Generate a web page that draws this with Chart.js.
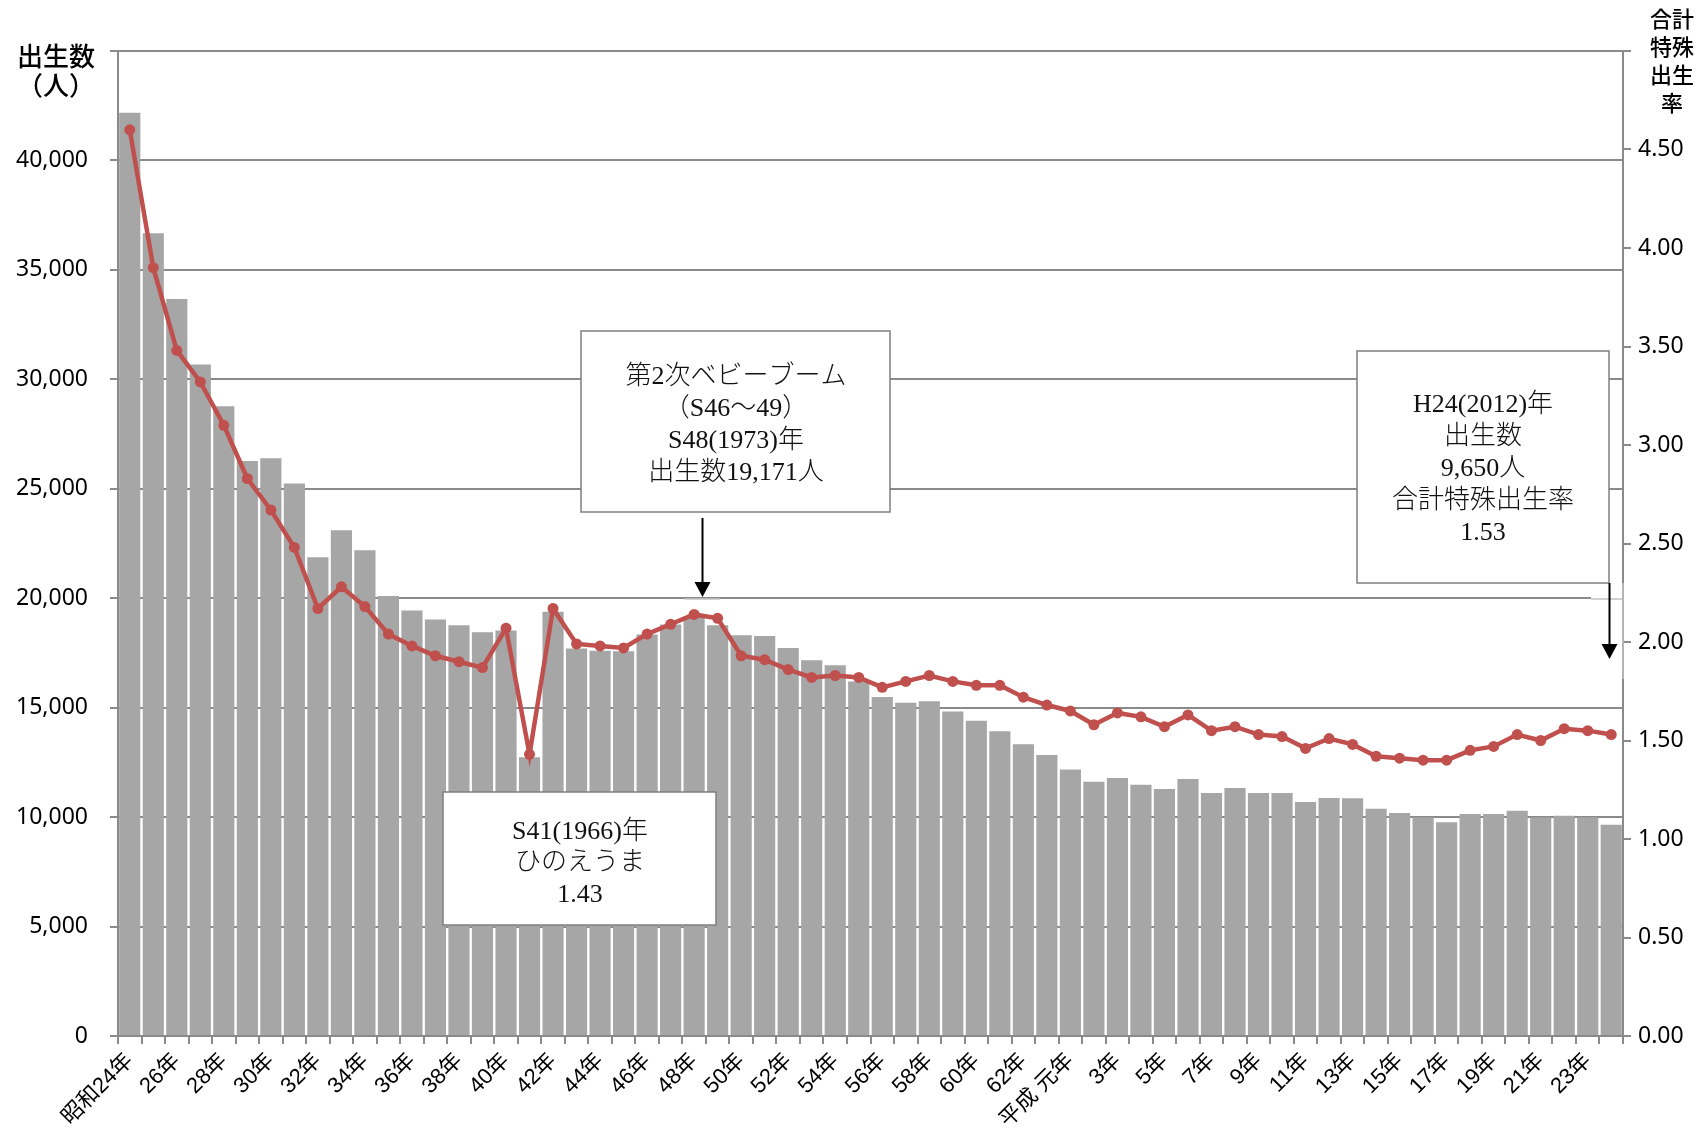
<!DOCTYPE html>
<html lang="ja">
<head>
<meta charset="utf-8">
<title>出生数と合計特殊出生率の推移</title>
<script src="https://cdn.jsdelivr.net/npm/chart.js@4.4.1/dist/chart.umd.min.js"></script>
<style>
  html, body { margin: 0; padding: 0; background: #fff; }
  #wrap { width: 1708px; height: 1130px; }
</style>
</head>
<body>
<div id="wrap"><canvas id="birthChart" width="1708" height="1130"></canvas></div>
<script>
// 年次（昭和24年〜平成24年）
const years = [
  '昭和24年', '25年', '26年', '27年', '28年', '29年', '30年', '31年', '32年', '33年',
  '34年', '35年', '36年', '37年', '38年', '39年', '40年', '41年', '42年', '43年',
  '44年', '45年', '46年', '47年', '48年', '49年', '50年', '51年', '52年', '53年',
  '54年', '55年', '56年', '57年', '58年', '59年', '60年', '61年', '62年', '63年',
  '平成 元年', '2年', '3年', '4年', '5年', '6年', '7年', '8年', '9年', '10年',
  '11年', '12年', '13年', '14年', '15年', '16年', '17年', '18年', '19年', '20年',
  '21年', '22年', '23年', '24年'
];

// 出生数（人）
const births = [
  42180, 36670, 33670, 30680, 28770, 26270, 26400, 25240, 21870, 23100,
  22190, 20100, 19440, 19030, 18770, 18450, 18530, 12730, 19380, 17700,
  17600, 17580, 18340, 18800, 19171, 18760, 18310, 18270, 17730, 17170,
  16940, 16200, 15490, 15220, 15290, 14820, 14400, 13920, 13330, 12840,
  12170, 11620, 11790, 11480, 11280, 11740, 11100, 11330, 11100, 11100,
  10690, 10870, 10860, 10380, 10190, 9990, 9760, 10140, 10140, 10290,
  9990, 10060, 9990, 9650
];

// 合計特殊出生率
const tfr = [
  4.60, 3.90, 3.48, 3.32, 3.10, 2.83, 2.67, 2.48, 2.17, 2.28,
  2.18, 2.04, 1.98, 1.93, 1.90, 1.87, 2.07, 1.43, 2.17, 1.99,
  1.98, 1.97, 2.04, 2.09, 2.14, 2.12, 1.93, 1.91, 1.86, 1.82,
  1.83, 1.82, 1.77, 1.80, 1.83, 1.80, 1.78, 1.78, 1.72, 1.68,
  1.65, 1.58, 1.64, 1.62, 1.57, 1.63, 1.55, 1.57, 1.53, 1.52,
  1.46, 1.51, 1.48, 1.42, 1.41, 1.40, 1.40, 1.45, 1.47, 1.53,
  1.50, 1.56, 1.55, 1.53
];

// 軸の範囲と目盛
const birthMax = 45000;
const birthStep = 5000;
const rateMax = 5;
const rateStep = 0.5;

// 吹き出しの文言
const noteBoom = ['第2次ベビーブーム', '（S46～49）', 'S48(1973)年', '出生数19,171人'];
const noteHinoe = ['S41(1966)年', 'ひのえうま', '1.43'];
const noteLatest = ['H24(2012)年', '出生数', '9,650人', '合計特殊出生率', '1.53'];

const AXIS = '#8a8a8a';
const SANS = '"Noto Sans", "Noto Sans CJK JP", sans-serif';
const SERIF = '"Liberation Serif", "Noto Sans CJK JP", serif';

// 注記（吹き出し・矢印・軸タイトル）を描くプラグイン
const notes = {
  id: 'notes',
  afterDraw(chart) {
    const ctx = chart.ctx;
    ctx.save();

    function box(x1, y1, x2, y2, lines, cx, firstY, step) {
      ctx.fillStyle = '#fff';
      ctx.fillRect(x1, y1, x2 - x1, y2 - y1);
      ctx.strokeStyle = '#7f7f7f';
      ctx.lineWidth = 1.5;
      ctx.strokeRect(x1, y1, x2 - x1, y2 - y1);
      ctx.fillStyle = '#111';
      ctx.font = '300 26px ' + SERIF;
      ctx.textAlign = 'center';
      ctx.textBaseline = 'middle';
      lines.forEach((t, i) => ctx.fillText(t, cx, firstY + i * step));
    }

    function arrow(x, y1, y2) {
      ctx.strokeStyle = '#000';
      ctx.fillStyle = '#000';
      ctx.lineWidth = 2;
      ctx.beginPath();
      ctx.moveTo(x, y1);
      ctx.lineTo(x, y2 - 12);
      ctx.stroke();
      ctx.beginPath();
      ctx.moveTo(x - 8, y2 - 15);
      ctx.lineTo(x + 8, y2 - 15);
      ctx.lineTo(x, y2);
      ctx.closePath();
      ctx.fill();
    }

    // 右端の白い帯（テキストボックスの名残）
    ctx.fillStyle = '#fff';
    ctx.fillRect(1591, 583, 31, 96);
    ctx.strokeStyle = '#c4c4c4';
    ctx.lineWidth = 1.5;
    ctx.beginPath();
    ctx.moveTo(1623, 583);
    ctx.lineTo(1623, 679);
    ctx.moveTo(1591, 599);
    ctx.lineTo(1622, 599);
    ctx.stroke();
    ctx.beginPath();
    ctx.moveTo(684, 599);
    ctx.lineTo(720, 599);
    ctx.stroke();

    box(581, 331, 890, 512, noteBoom, 736, 377, 32);
    arrow(702.5, 518, 597);

    box(443, 792, 716, 925, noteHinoe, 580, 832, 31.5);

    box(1357, 351, 1609, 583, noteLatest, 1483, 405, 32);
    arrow(1609.5, 583, 659);

    // 軸タイトル
    ctx.fillStyle = '#000';
    ctx.textAlign = 'center';
    ctx.textBaseline = 'middle';
    ctx.font = '500 26px "Noto Sans CJK JP", sans-serif';
    ctx.fillText('出生数', 56, 56);
    ctx.fillText('（人）', 56, 85);
    ctx.font = '500 22px "Noto Sans CJK JP", sans-serif';
    ['合計', '特殊', '出生', '率'].forEach((t, i) => ctx.fillText(t, 1672, 19 + i * 28));

    ctx.restore();
  }
};

const chartCtx = document.getElementById('birthChart').getContext('2d');
new Chart(chartCtx, {
  data: {
    labels: years,
    datasets: [
      {
        type: 'line',
        label: '合計特殊出生率',
        data: tfr,
        yAxisID: 'yRate',
        borderColor: '#c0504d',
        backgroundColor: '#c0504d',
        borderWidth: 4.5,
        pointRadius: 5.5,
        pointHoverRadius: 5.5,
        pointBorderWidth: 0,
        tension: 0,
        order: 0
      },
      {
        type: 'bar',
        label: '出生数',
        data: births,
        yAxisID: 'yBirth',
        backgroundColor: '#a6a6a6',
        barPercentage: 0.9,
        categoryPercentage: 1,
        order: 1
      }
    ]
  },
  options: {
    responsive: false,
    animation: false,
    devicePixelRatio: 1,
    layout: { padding: { top: 51, left: 0, right: 0, bottom: 0 } },
    plugins: {
      legend: { display: false },
      tooltip: { enabled: false }
    },
    scales: {
      x: {
        offset: true,
        grid: {
          offset: true,
          drawOnChartArea: false,
          drawTicks: true,
          tickLength: 8,
          color: AXIS,
          lineWidth: 2
        },
        border: { color: AXIS, width: 2 },
        ticks: {
          autoSkip: false,
          minRotation: 45,
          maxRotation: 45,
          padding: 4,
          color: '#000',
          font: { family: '"Liberation Sans", "Noto Sans CJK JP", sans-serif', size: 22 },
          callback: (v, i) => (i % 2 === 0 ? years[i] : '')
        },
        afterFit: s => { s.height = 94; }
      },
      yBirth: {
        position: 'left',
        min: 0,
        max: birthMax,
        grid: { color: AXIS, lineWidth: 2, tickLength: 8 },
        border: { color: AXIS, width: 2 },
        ticks: {
          stepSize: birthStep,
          padding: 22,
          color: '#000',
          font: { family: SANS, size: 23 },
          callback: v => (v === birthMax ? '' : v.toLocaleString('en-US'))
        },
        afterFit: s => { s.width = 118; }
      },
      yRate: {
        position: 'right',
        min: 0,
        max: rateMax,
        grid: { drawOnChartArea: false, color: AXIS, lineWidth: 2, tickLength: 8 },
        border: { color: AXIS, width: 2 },
        ticks: {
          stepSize: rateStep,
          padding: 7,
          color: '#000',
          font: { family: SANS, size: 23 },
          callback: v => (v === rateMax ? '' : v.toFixed(2))
        },
        afterFit: s => { s.width = 85; }
      }
    }
  },
  plugins: [notes]
});
</script>
</body>
</html>
